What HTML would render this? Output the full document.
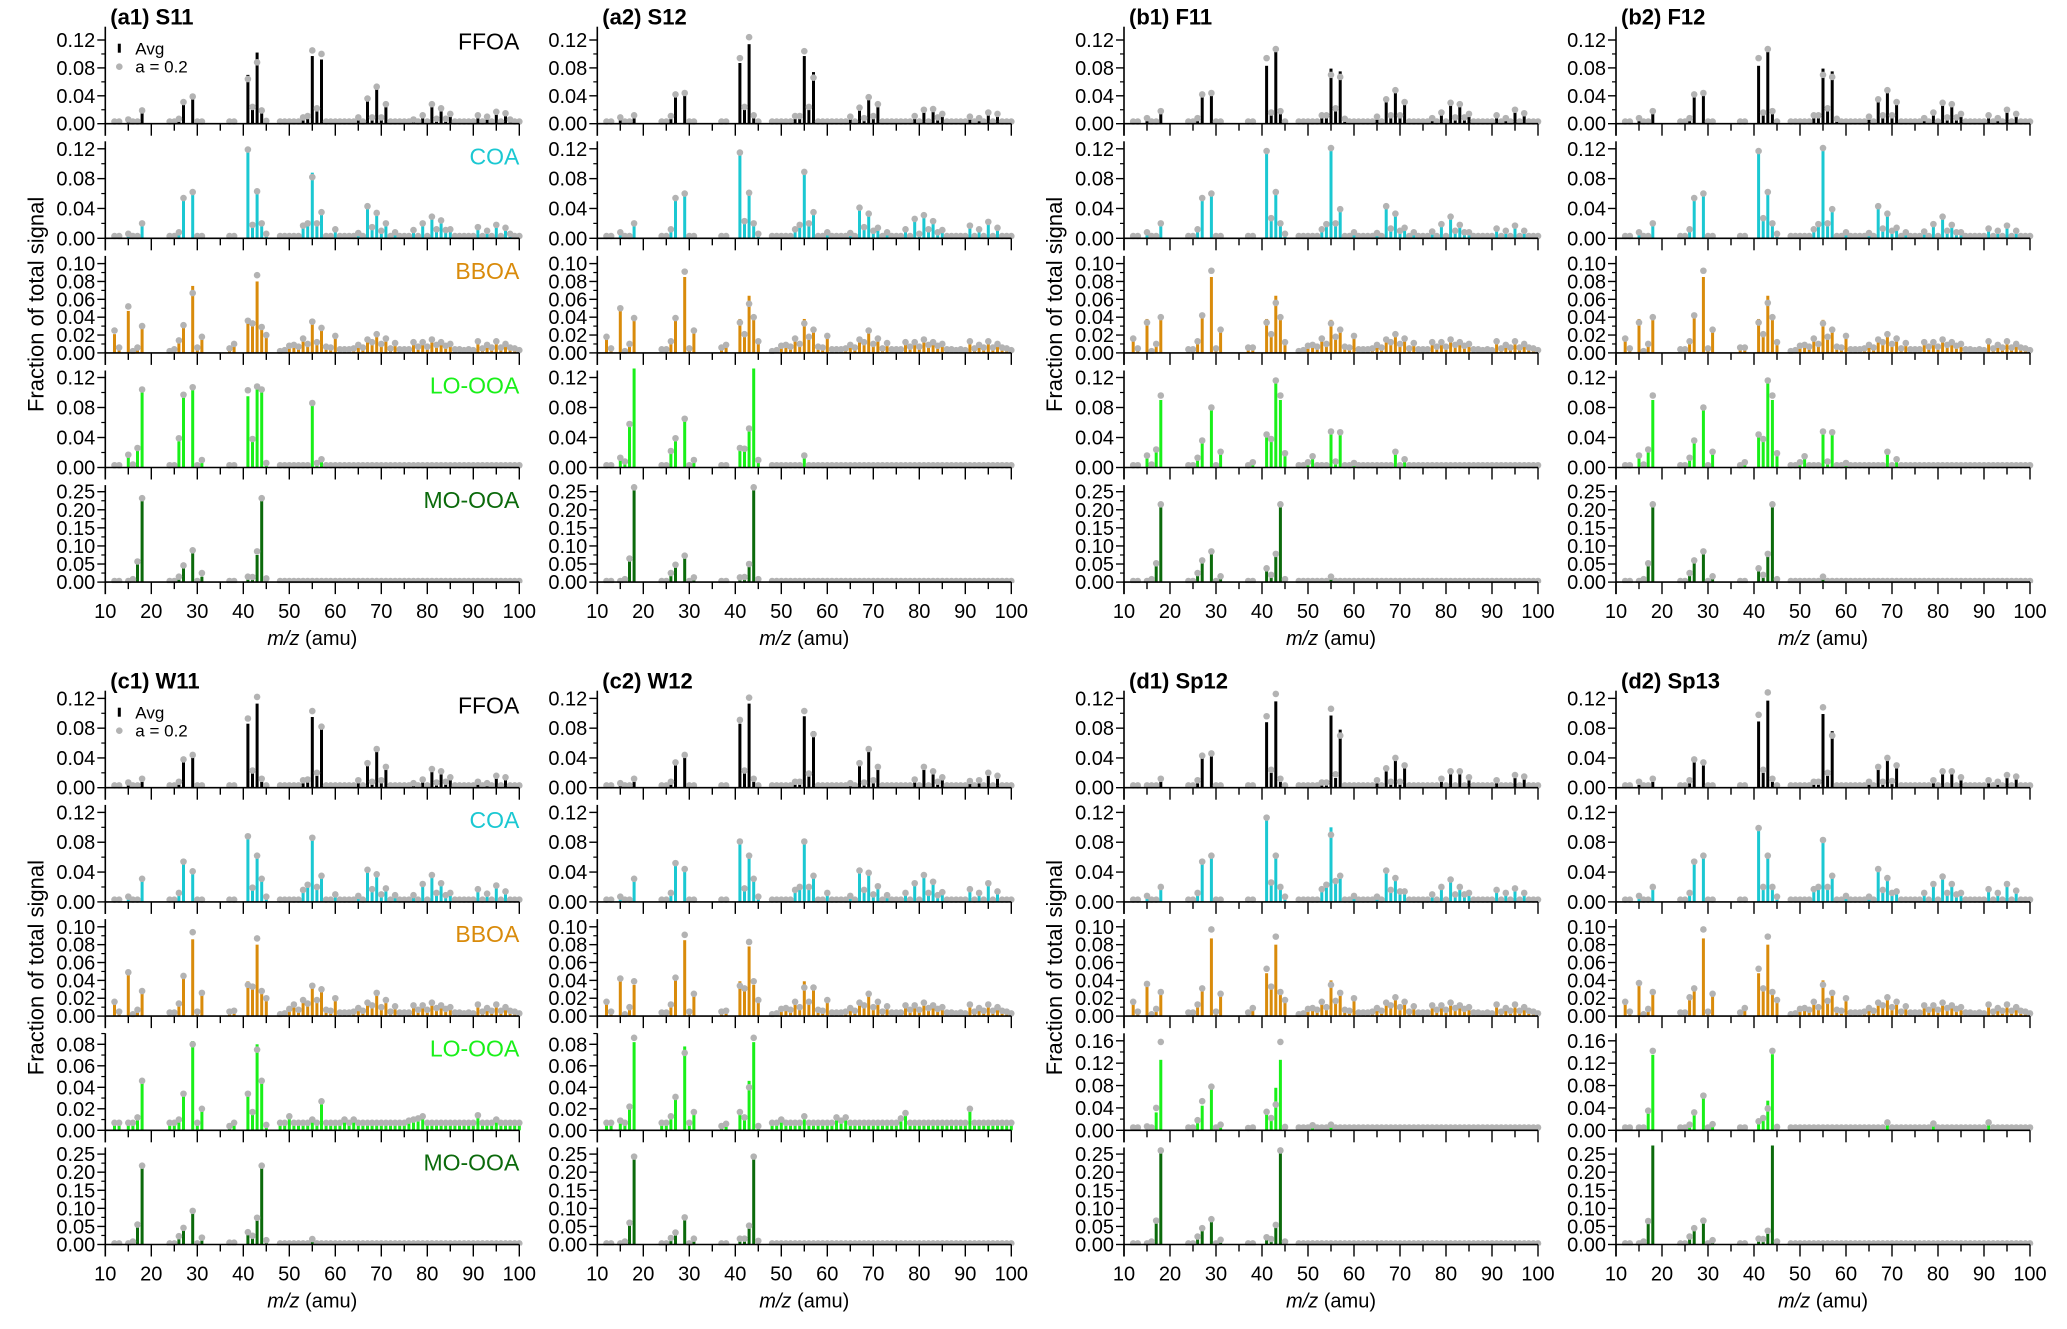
<!DOCTYPE html>
<html><head><meta charset="utf-8"><title>PMF factor mass spectra</title>
<style>
html,body{margin:0;padding:0;background:#fff;}
svg{display:block;font-family:"Liberation Sans","DejaVu Sans",sans-serif;}
</style></head>
<body>
<svg id="chart" width="2067" height="1329" viewBox="0 0 2067 1329" xmlns="http://www.w3.org/2000/svg">
<rect x="0" y="0" width="2067" height="1329" fill="#fff"/>
</svg>
<script>
// m/z values present in the spectra
const mzList = [12,13,15,16,17,18,24,25,26,27,29,30,31,37,38,41,42,43,44,45,48,49,50,51,52,53,54,55,56,57,58,59,60,61,62,63,64,65,66,67,68,69,70,71,72,73,74,75,76,77,78,79,80,81,82,83,84,85,86,87,88,89,90,91,92,93,94,95,96,97,98,99,100];
const factorNames = ["FFOA","COA","BBOA","LO-OOA","MO-OOA"];
const panelTitles = ["(a1) S11","(a2) S12","(b1) F11","(b2) F12","(c1) W11","(c2) W12","(d1) Sp12","(d2) Sp13"];
const xTicks = [10,20,30,40,50,60,70,80,90,100];

// shared BBOA tail (m/z 48-100), [mz, avg, a=0.2]
const bboaTail = [[48,0,0.002],[49,0.002,0.003],[50,0.006,0.008],[51,0.007,0.009],[52,0.005,0.007],[53,0.013,0.016],[54,0.008,0.01],[56,0.01,0.012],[58,0.006,0.007],[59,0.005,0.006],[60,0.017,0.019],[61,0.004,0.004],[62,0.003,0.004],[63,0.004,0.004],[64,0.004,0.005],[65,0.007,0.009],[66,0.005,0.006],[67,0.013,0.015],[68,0.01,0.012],[69,0.018,0.021],[70,0.008,0.01],[71,0.014,0.016],[72,0.004,0.005],[73,0.009,0.011],[74,0.004,0.004],[75,0.004,0.004],[76,0.003,0.004],[77,0.01,0.012],[78,0.005,0.007],[79,0.01,0.012],[80,0.005,0.007],[81,0.012,0.015],[82,0.007,0.009],[83,0.01,0.012],[84,0.006,0.008],[85,0.008,0.01],[86,0.003,0.004],[87,0.003,0.004],[88,0.002,0.003],[89,0.003,0.004],[90,0.002,0.003],[91,0.011,0.013],[92,0.004,0.005],[93,0.007,0.009],[94,0.005,0.006],[95,0.01,0.013],[96,0.005,0.006],[97,0.008,0.01],[98,0.005,0.006],[99,0.004,0.005],[100,0.002,0.003]];

// FFOA
const ffoa_a1 = [[15,0.003,0.006],[18,0.016,0.019],[26,0.005,0.007],[27,0.028,0.031],[29,0.037,0.039],[41,0.07,0.064],[42,0.02,0.024],[43,0.102,0.088],[44,0.015,0.019],[45,0.002,0.004],[53,0.007,0.009],[54,0.008,0.011],[55,0.097,0.105],[56,0.018,0.022],[57,0.092,0.1],[65,0.007,0.009],[67,0.033,0.036],[68,0.005,0.009],[69,0.05,0.053],[70,0.007,0.009],[71,0.025,0.028],[77,0.004,0.006],[79,0.01,0.012],[81,0.025,0.028],[82,0.005,0.007],[83,0.018,0.022],[84,0.005,0.007],[85,0.012,0.014],[91,0.01,0.012],[93,0.008,0.01],[95,0.014,0.017],[97,0.012,0.015],[98,0.004,0.006]];
const ffoa_a2 = [[15,0.006,0.009],[18,0.008,0.012],[26,0.007,0.011],[27,0.038,0.042],[29,0.042,0.044],[41,0.087,0.094],[42,0.02,0.024],[43,0.114,0.124],[44,0.01,0.012],[53,0.009,0.011],[54,0.009,0.011],[55,0.097,0.104],[56,0.02,0.024],[57,0.074,0.066],[65,0.008,0.01],[67,0.02,0.023],[68,0.004,0.008],[69,0.04,0.038],[70,0.008,0.011],[71,0.025,0.028],[79,0.008,0.011],[81,0.018,0.02],[83,0.018,0.021],[84,0.006,0.009],[85,0.012,0.014],[91,0.008,0.01],[93,0.005,0.008],[95,0.014,0.016],[97,0.011,0.014]];
const ffoa_b1 = [[15,0.005,0.008],[18,0.015,0.018],[26,0.005,0.008],[27,0.038,0.042],[29,0.042,0.044],[41,0.083,0.094],[42,0.012,0.016],[43,0.103,0.107],[44,0.015,0.018],[53,0.01,0.012],[54,0.009,0.012],[55,0.079,0.07],[56,0.019,0.022],[57,0.075,0.067],[58,0.004,0.007],[65,0.007,0.01],[67,0.032,0.035],[68,0.008,0.012],[69,0.047,0.048],[70,0.009,0.012],[71,0.03,0.031],[77,0.004,0.008],[79,0.012,0.016],[81,0.028,0.03],[82,0.005,0.009],[83,0.026,0.028],[84,0.005,0.009],[85,0.012,0.014],[91,0.01,0.012],[93,0.005,0.008],[95,0.018,0.02],[97,0.012,0.015]];
const ffoa_b2 = [[15,0.005,0.008],[18,0.015,0.018],[26,0.005,0.008],[27,0.038,0.042],[29,0.042,0.044],[41,0.083,0.094],[42,0.012,0.016],[43,0.103,0.107],[44,0.015,0.018],[53,0.01,0.012],[54,0.009,0.012],[55,0.079,0.07],[56,0.019,0.022],[57,0.075,0.067],[58,0.004,0.007],[65,0.007,0.01],[67,0.032,0.035],[68,0.008,0.012],[69,0.047,0.048],[70,0.009,0.012],[71,0.03,0.031],[77,0.004,0.008],[79,0.012,0.016],[81,0.028,0.03],[82,0.005,0.009],[83,0.026,0.028],[84,0.005,0.009],[85,0.012,0.014],[91,0.01,0.012],[93,0.005,0.008],[95,0.018,0.02],[97,0.012,0.014]];
const ffoa_c1 = [[15,0.004,0.007],[18,0.008,0.012],[26,0.005,0.008],[27,0.035,0.038],[29,0.041,0.044],[41,0.086,0.093],[42,0.02,0.023],[43,0.113,0.122],[44,0.008,0.012],[53,0.008,0.01],[54,0.008,0.011],[55,0.095,0.103],[56,0.016,0.02],[57,0.08,0.082],[65,0.008,0.01],[67,0.03,0.033],[68,0.005,0.008],[69,0.05,0.052],[70,0.007,0.01],[71,0.025,0.028],[77,0.004,0.006],[79,0.008,0.011],[81,0.022,0.025],[82,0.004,0.007],[83,0.018,0.022],[84,0.005,0.008],[85,0.012,0.014],[91,0.006,0.008],[93,0.004,0.006],[95,0.013,0.016],[97,0.011,0.014]];
const ffoa_c2 = [[15,0.004,0.006],[18,0.008,0.012],[26,0.005,0.008],[27,0.031,0.034],[29,0.041,0.044],[41,0.086,0.091],[42,0.02,0.023],[43,0.113,0.121],[44,0.008,0.012],[53,0.007,0.008],[54,0.007,0.008],[55,0.096,0.103],[56,0.016,0.019],[57,0.076,0.072],[65,0.004,0.006],[67,0.03,0.033],[68,0.004,0.007],[69,0.05,0.052],[70,0.007,0.01],[71,0.025,0.028],[79,0.008,0.011],[81,0.025,0.028],[83,0.018,0.022],[84,0.005,0.008],[85,0.011,0.014],[91,0.006,0.009],[93,0.006,0.01],[95,0.016,0.02],[97,0.013,0.016]];
const ffoa_d1 = [[18,0.008,0.012],[26,0.006,0.01],[27,0.04,0.043],[29,0.042,0.046],[41,0.088,0.096],[42,0.02,0.024],[43,0.116,0.126],[44,0.008,0.012],[53,0.004,0.007],[54,0.005,0.007],[55,0.097,0.106],[56,0.013,0.018],[57,0.078,0.07],[65,0.006,0.01],[67,0.022,0.026],[68,0.005,0.008],[69,0.038,0.04],[70,0.005,0.008],[71,0.028,0.03],[79,0.008,0.012],[81,0.02,0.022],[83,0.02,0.022],[85,0.012,0.014],[91,0.008,0.01],[95,0.015,0.017],[97,0.013,0.015]];
const ffoa_d2 = [[15,0.004,0.008],[18,0.008,0.012],[26,0.006,0.01],[27,0.036,0.038],[29,0.03,0.034],[41,0.089,0.098],[42,0.02,0.024],[43,0.117,0.128],[44,0.008,0.012],[53,0.006,0.008],[54,0.006,0.008],[55,0.099,0.108],[56,0.016,0.02],[57,0.076,0.07],[65,0.005,0.008],[67,0.025,0.028],[68,0.005,0.008],[69,0.043,0.04],[70,0.006,0.009],[71,0.028,0.03],[79,0.007,0.01],[81,0.02,0.022],[83,0.021,0.022],[85,0.012,0.014],[91,0.008,0.01],[93,0.006,0.008],[95,0.015,0.017],[97,0.013,0.015]];

// COA
const coa_a1 = [[15,0.004,0.006],[18,0.018,0.02],[26,0.005,0.008],[27,0.052,0.054],[29,0.06,0.062],[41,0.118,0.119],[42,0.015,0.018],[43,0.06,0.063],[44,0.016,0.02],[45,0.004,0.006],[53,0.015,0.017],[54,0.017,0.02],[55,0.088,0.082],[56,0.017,0.02],[57,0.032,0.035],[60,0.01,0.012],[65,0.005,0.007],[67,0.04,0.043],[68,0.012,0.015],[69,0.03,0.034],[70,0.009,0.01],[71,0.016,0.02],[73,0.006,0.008],[77,0.009,0.011],[79,0.016,0.02],[81,0.026,0.029],[82,0.01,0.012],[83,0.02,0.024],[84,0.008,0.011],[85,0.01,0.012],[91,0.012,0.015],[93,0.008,0.01],[95,0.015,0.018],[97,0.01,0.014],[98,0.005,0.006]];
const coa_a2 = [[15,0.006,0.008],[18,0.018,0.02],[26,0.009,0.012],[27,0.052,0.054],[29,0.06,0.06],[41,0.115,0.115],[42,0.02,0.023],[43,0.058,0.061],[44,0.018,0.02],[45,0.004,0.006],[53,0.013,0.012],[54,0.015,0.018],[55,0.09,0.089],[56,0.018,0.02],[57,0.033,0.035],[60,0.008,0.008],[65,0.006,0.007],[67,0.04,0.041],[68,0.012,0.015],[69,0.032,0.033],[70,0.009,0.01],[71,0.012,0.014],[73,0.006,0.008],[77,0.01,0.012],[79,0.024,0.026],[80,0.004,0.006],[81,0.03,0.031],[82,0.01,0.012],[83,0.022,0.023],[84,0.006,0.008],[85,0.01,0.011],[91,0.015,0.017],[93,0.01,0.012],[95,0.02,0.022],[97,0.012,0.014]];
const coa_b1 = [[15,0.006,0.008],[18,0.018,0.02],[26,0.009,0.012],[27,0.052,0.054],[29,0.06,0.06],[41,0.116,0.117],[42,0.024,0.027],[43,0.063,0.062],[44,0.018,0.02],[45,0.004,0.006],[53,0.01,0.012],[54,0.016,0.019],[55,0.118,0.121],[56,0.016,0.02],[57,0.037,0.039],[60,0.008,0.008],[65,0.005,0.007],[67,0.04,0.043],[68,0.012,0.013],[69,0.032,0.033],[70,0.008,0.01],[71,0.012,0.014],[73,0.007,0.008],[77,0.007,0.009],[79,0.016,0.019],[81,0.026,0.029],[82,0.008,0.01],[83,0.015,0.018],[84,0.006,0.008],[85,0.006,0.008],[91,0.012,0.013],[93,0.009,0.01],[95,0.016,0.017],[97,0.008,0.01]];
const coa_b2 = [[15,0.006,0.008],[18,0.018,0.02],[26,0.009,0.012],[27,0.052,0.054],[29,0.06,0.06],[41,0.116,0.117],[42,0.024,0.027],[43,0.063,0.062],[44,0.018,0.02],[45,0.004,0.006],[53,0.01,0.012],[54,0.016,0.019],[55,0.118,0.121],[56,0.016,0.02],[57,0.037,0.039],[60,0.008,0.008],[65,0.005,0.007],[67,0.04,0.043],[68,0.012,0.013],[69,0.03,0.033],[70,0.008,0.01],[71,0.012,0.014],[73,0.007,0.008],[77,0.007,0.009],[79,0.016,0.019],[81,0.026,0.029],[82,0.008,0.01],[83,0.015,0.018],[84,0.006,0.008],[85,0.006,0.008],[91,0.012,0.013],[93,0.009,0.01],[95,0.016,0.017],[97,0.008,0.01]];
const coa_c1 = [[15,0.005,0.007],[18,0.028,0.031],[26,0.01,0.012],[27,0.052,0.054],[29,0.04,0.041],[41,0.088,0.088],[42,0.017,0.019],[43,0.06,0.062],[44,0.028,0.031],[45,0.005,0.007],[53,0.014,0.016],[54,0.02,0.023],[55,0.086,0.086],[56,0.018,0.02],[57,0.034,0.035],[60,0.009,0.01],[65,0.006,0.008],[67,0.042,0.043],[68,0.015,0.017],[69,0.036,0.037],[70,0.01,0.01],[71,0.017,0.018],[73,0.007,0.009],[77,0.007,0.009],[79,0.022,0.024],[81,0.034,0.036],[82,0.01,0.012],[83,0.023,0.025],[84,0.007,0.009],[85,0.011,0.012],[91,0.016,0.017],[93,0.01,0.011],[95,0.02,0.022],[97,0.013,0.014]];
const coa_c2 = [[15,0.005,0.007],[18,0.028,0.031],[26,0.01,0.012],[27,0.05,0.052],[29,0.043,0.044],[41,0.08,0.081],[42,0.016,0.018],[43,0.06,0.062],[44,0.028,0.031],[45,0.005,0.007],[53,0.014,0.016],[54,0.018,0.02],[55,0.08,0.081],[56,0.018,0.02],[57,0.033,0.035],[60,0.01,0.012],[65,0.006,0.008],[67,0.04,0.042],[68,0.014,0.016],[69,0.038,0.039],[70,0.009,0.01],[71,0.018,0.021],[73,0.007,0.009],[77,0.01,0.012],[79,0.024,0.025],[81,0.034,0.036],[82,0.01,0.012],[83,0.025,0.027],[84,0.008,0.009],[85,0.011,0.013],[91,0.016,0.017],[93,0.01,0.012],[95,0.022,0.025],[97,0.012,0.014]];
const coa_d1 = [[15,0.005,0.008],[18,0.018,0.02],[26,0.009,0.012],[27,0.052,0.054],[29,0.06,0.062],[41,0.11,0.113],[42,0.023,0.026],[43,0.06,0.062],[44,0.018,0.02],[45,0.005,0.007],[53,0.014,0.017],[54,0.02,0.023],[55,0.1,0.09],[56,0.025,0.028],[57,0.033,0.035],[60,0.006,0.008],[65,0.006,0.007],[67,0.04,0.042],[68,0.014,0.016],[69,0.03,0.032],[70,0.012,0.014],[71,0.012,0.014],[77,0.008,0.01],[79,0.016,0.02],[81,0.028,0.03],[82,0.008,0.01],[83,0.016,0.02],[84,0.008,0.01],[85,0.01,0.012],[91,0.014,0.016],[93,0.01,0.012],[95,0.016,0.018],[97,0.01,0.012]];
const coa_d2 = [[15,0.005,0.008],[18,0.018,0.02],[26,0.009,0.012],[27,0.052,0.054],[29,0.06,0.062],[41,0.098,0.099],[42,0.017,0.02],[43,0.06,0.062],[44,0.017,0.02],[45,0.005,0.007],[53,0.014,0.017],[54,0.018,0.02],[55,0.082,0.083],[56,0.018,0.02],[57,0.033,0.035],[60,0.006,0.008],[65,0.006,0.007],[67,0.042,0.044],[68,0.014,0.016],[69,0.03,0.032],[70,0.01,0.012],[71,0.012,0.014],[77,0.01,0.012],[79,0.022,0.024],[81,0.032,0.034],[82,0.01,0.012],[83,0.022,0.024],[84,0.008,0.01],[85,0.01,0.012],[91,0.015,0.017],[93,0.01,0.012],[95,0.022,0.024],[97,0.013,0.015]];

// BBOA (low m/z part; tail from bboaTail + overrides)
const bboa_a1 = [[12,0.021,0.025],[13,0.004,0.006],[15,0.047,0.052],[16,0.001,0.002],[17,0.004,0.006],[18,0.028,0.03],[24,0.001,0.002],[25,0.002,0.004],[26,0.012,0.014],[27,0.03,0.031],[29,0.075,0.067],[30,0.005,0.006],[31,0.015,0.018],[37,0.004,0.005],[38,0.008,0.01],[41,0.038,0.036],[42,0.03,0.033],[43,0.08,0.087],[44,0.028,0.029],[45,0.018,0.02],[55,0.037,0.035],[57,0.027,0.028]];
const bboa_a2 = [[12,0.016,0.018],[13,0.003,0.005],[15,0.048,0.05],[16,0.001,0.002],[17,0.007,0.01],[18,0.036,0.039],[26,0.011,0.013],[27,0.036,0.039],[29,0.085,0.091],[30,0.004,0.005],[31,0.022,0.025],[37,0.005,0.006],[38,0.007,0.009],[41,0.038,0.034],[42,0.018,0.021],[43,0.064,0.055],[44,0.037,0.04],[45,0.01,0.013],[55,0.038,0.033],[56,0.015,0.018],[57,0.028,0.026],[69,0.022,0.025]];
const bboa_b1 = [[12,0.013,0.016],[13,0.003,0.005],[15,0.038,0.034],[16,0.001,0.002],[17,0.007,0.01],[18,0.038,0.04],[26,0.011,0.013],[27,0.04,0.042],[29,0.085,0.092],[30,0.004,0.005],[31,0.024,0.026],[37,0.004,0.006],[38,0.005,0.006],[41,0.038,0.034],[42,0.018,0.021],[43,0.064,0.056],[44,0.037,0.04],[45,0.01,0.012],[55,0.037,0.033],[56,0.015,0.018],[57,0.028,0.026],[60,0.018,0.019]];
const bboa_b2 = [[12,0.013,0.016],[13,0.003,0.005],[15,0.038,0.034],[16,0.001,0.002],[17,0.007,0.01],[18,0.038,0.04],[26,0.011,0.013],[27,0.04,0.042],[29,0.085,0.092],[30,0.004,0.005],[31,0.024,0.026],[37,0.004,0.006],[38,0.005,0.006],[41,0.038,0.034],[42,0.018,0.021],[43,0.064,0.056],[44,0.037,0.04],[45,0.01,0.012],[55,0.037,0.033],[56,0.015,0.018],[57,0.028,0.026],[60,0.018,0.019]];
const bboa_c1 = [[12,0.013,0.016],[13,0.003,0.005],[15,0.048,0.049],[16,0.001,0.002],[17,0.006,0.007],[18,0.026,0.028],[26,0.012,0.014],[27,0.042,0.045],[29,0.086,0.094],[30,0.004,0.005],[31,0.026,0.026],[37,0.004,0.005],[38,0.005,0.006],[41,0.039,0.035],[42,0.032,0.033],[43,0.08,0.087],[44,0.028,0.028],[45,0.019,0.02],[51,0.012,0.013],[53,0.017,0.018],[54,0.012,0.014],[55,0.037,0.034],[56,0.018,0.018],[57,0.03,0.03],[60,0.018,0.02],[69,0.025,0.026],[71,0.016,0.018]];
const bboa_c2 = [[12,0.014,0.016],[13,0.003,0.005],[15,0.04,0.042],[16,0.001,0.002],[17,0.008,0.01],[18,0.035,0.039],[26,0.011,0.013],[27,0.04,0.043],[29,0.085,0.091],[30,0.004,0.005],[31,0.024,0.025],[37,0.004,0.005],[38,0.005,0.006],[41,0.039,0.034],[42,0.03,0.031],[43,0.078,0.083],[44,0.035,0.039],[45,0.016,0.018],[55,0.039,0.032],[56,0.014,0.016],[57,0.032,0.032],[60,0.016,0.018],[69,0.022,0.025]];
const bboa_d1 = [[12,0.013,0.016],[13,0.003,0.005],[15,0.038,0.036],[16,0.001,0.002],[17,0.006,0.008],[18,0.025,0.027],[26,0.011,0.013],[27,0.028,0.031],[29,0.087,0.097],[30,0.004,0.005],[31,0.024,0.025],[37,0.004,0.004],[38,0.006,0.009],[41,0.048,0.053],[42,0.03,0.033],[43,0.08,0.089],[44,0.025,0.027],[45,0.017,0.018],[55,0.04,0.035],[56,0.017,0.017],[57,0.025,0.026],[60,0.018,0.02]];
const bboa_d2 = [[12,0.013,0.016],[13,0.003,0.005],[15,0.036,0.037],[16,0.001,0.002],[17,0.006,0.008],[18,0.025,0.027],[26,0.018,0.021],[27,0.028,0.031],[29,0.087,0.097],[30,0.004,0.005],[31,0.024,0.025],[37,0.004,0.004],[38,0.006,0.009],[41,0.048,0.053],[42,0.03,0.031],[43,0.08,0.089],[44,0.025,0.027],[45,0.017,0.018],[55,0.04,0.035],[56,0.016,0.017],[57,0.025,0.026],[60,0.018,0.02]];

// LO-OOA
const lo_a1 = [[15,0.014,0.017],[16,0.003,0.004],[17,0.022,0.026],[18,0.1,0.104],[26,0.035,0.039],[27,0.093,0.097],[29,0.105,0.107],[31,0.007,0.01],[41,0.095,0.103],[42,0.035,0.038],[43,0.105,0.108],[44,0.1,0.104],[45,0.004,0.006],[55,0.083,0.086],[56,0.004,0.006],[57,0.008,0.011]];
const lo_a2 = [[15,0.01,0.013],[16,0.005,0.008],[17,0.055,0.058],[18,0.14,0.14],[26,0.02,0.022],[27,0.035,0.039],[29,0.062,0.065],[31,0.008,0.01],[41,0.025,0.026],[42,0.024,0.025],[43,0.048,0.052],[44,0.14,0.14],[45,0.008,0.01],[55,0.013,0.016]];
const lo_b1 = [[12,0.002,0.003],[15,0.013,0.016],[16,0.003,0.004],[17,0.021,0.024],[18,0.09,0.096],[26,0.01,0.013],[27,0.033,0.036],[29,0.078,0.08],[31,0.018,0.021],[38,0.005,0.007],[41,0.048,0.044],[42,0.035,0.038],[43,0.112,0.116],[44,0.09,0.096],[45,0.017,0.019],[50,0.005,0.007],[51,0.012,0.015],[55,0.044,0.048],[56,0.006,0.008],[57,0.045,0.047],[60,0.005,0.006],[69,0.018,0.021],[71,0.008,0.011]];
const lo_b2 = [[12,0.002,0.003],[15,0.013,0.016],[16,0.003,0.004],[17,0.021,0.024],[18,0.09,0.096],[26,0.01,0.013],[27,0.033,0.036],[29,0.078,0.08],[31,0.018,0.021],[38,0.005,0.007],[41,0.048,0.044],[42,0.035,0.038],[43,0.112,0.116],[44,0.09,0.096],[45,0.017,0.019],[50,0.005,0.007],[51,0.012,0.015],[55,0.044,0.048],[56,0.006,0.008],[57,0.045,0.047],[60,0.005,0.006],[69,0.018,0.021],[71,0.008,0.011]];
const lo_c1 = [[15,0.005,0.007],[17,0.01,0.012],[18,0.045,0.046],[26,0.008,0.01],[27,0.032,0.034],[29,0.083,0.08],[31,0.018,0.02],[37,0.003,0.004],[38,0.005,0.007],[41,0.032,0.034],[42,0.015,0.017],[43,0.08,0.075],[44,0.045,0.046],[45,0.003,0.005],[50,0.011,0.013],[55,0.008,0.01],[57,0.024,0.027],[62,0.008,0.01],[64,0.009,0.01],[76,0.008,0.009],[77,0.009,0.01],[78,0.01,0.011],[79,0.012,0.013],[91,0.012,0.014],[95,0.008,0.01]];
const lo_c2 = [[15,0.007,0.009],[17,0.02,0.022],[18,0.082,0.086],[26,0.011,0.013],[27,0.03,0.031],[29,0.078,0.072],[31,0.015,0.017],[37,0.003,0.004],[38,0.004,0.006],[41,0.015,0.017],[42,0.011,0.012],[43,0.046,0.04],[44,0.082,0.086],[45,0.002,0.004],[50,0.008,0.01],[55,0.01,0.013],[62,0.01,0.012],[63,0.008,0.009],[64,0.01,0.012],[76,0.01,0.011],[77,0.014,0.016],[91,0.018,0.02]];
const lo_d1 = [[15,0.004,0.007],[17,0.032,0.04],[18,0.126,0.158],[26,0.015,0.018],[27,0.044,0.052],[29,0.08,0.078],[31,0.007,0.01],[37,0.004,0.004],[41,0.035,0.033],[42,0.018,0.022],[43,0.076,0.046],[44,0.126,0.158],[45,0.006,0.006],[51,0.006,0.009],[55,0.008,0.01]];
const lo_d2 = [[17,0.03,0.035],[18,0.135,0.142],[26,0.008,0.01],[27,0.027,0.032],[29,0.058,0.062],[31,0.008,0.011],[41,0.016,0.016],[42,0.02,0.022],[43,0.053,0.039],[44,0.136,0.142],[45,0.004,0.006],[69,0.01,0.014],[79,0.008,0.012],[91,0.01,0.014]];

// MO-OOA
const mo_a1 = [[16,0.003,0.008],[17,0.05,0.057],[18,0.225,0.232],[26,0.01,0.015],[27,0.04,0.046],[29,0.08,0.088],[31,0.015,0.025],[41,0.01,0.015],[42,0.01,0.014],[43,0.075,0.085],[44,0.225,0.232],[45,0.004,0.01]];
const mo_a2 = [[16,0.002,0.008],[17,0.06,0.065],[18,0.26,0.262],[26,0.018,0.025],[27,0.042,0.048],[29,0.068,0.073],[31,0.008,0.013],[41,0.01,0.013],[42,0.01,0.014],[43,0.045,0.05],[44,0.26,0.262],[45,0.003,0.008]];
const mo_b1 = [[16,0.005,0.008],[17,0.045,0.052],[18,0.21,0.215],[26,0.018,0.025],[27,0.055,0.06],[29,0.082,0.085],[31,0.01,0.016],[41,0.032,0.038],[42,0.013,0.02],[43,0.075,0.078],[44,0.21,0.215],[45,0.003,0.008],[55,0.01,0.015]];
const mo_b2 = [[16,0.005,0.008],[17,0.045,0.052],[18,0.21,0.215],[26,0.018,0.025],[27,0.055,0.06],[29,0.082,0.085],[31,0.01,0.016],[41,0.032,0.038],[42,0.013,0.02],[43,0.075,0.078],[44,0.21,0.215],[45,0.003,0.008],[55,0.01,0.015]];
const mo_c1 = [[16,0.006,0.008],[17,0.048,0.055],[18,0.215,0.218],[26,0.015,0.023],[27,0.04,0.046],[29,0.088,0.093],[31,0.012,0.019],[37,0.005,0.005],[38,0.005,0.005],[41,0.028,0.034],[42,0.017,0.024],[43,0.068,0.074],[44,0.215,0.218],[45,0.008,0.012],[55,0.008,0.015]];
const mo_c2 = [[16,0.004,0.008],[17,0.055,0.06],[18,0.24,0.243],[26,0.013,0.018],[27,0.028,0.033],[29,0.07,0.075],[31,0.01,0.016],[41,0.013,0.016],[42,0.013,0.016],[43,0.045,0.052],[44,0.24,0.243],[45,0.004,0.01]];
const mo_d1 = [[16,0.006,0.008],[17,0.058,0.066],[18,0.26,0.26],[26,0.018,0.022],[27,0.04,0.045],[29,0.065,0.07],[31,0.008,0.013],[41,0.015,0.02],[42,0.012,0.015],[43,0.05,0.054],[44,0.26,0.26],[45,0.004,0.008]];
const mo_d2 = [[16,0.005,0.008],[17,0.06,0.065],[18,0.29,0.3],[26,0.018,0.022],[27,0.038,0.045],[29,0.06,0.066],[31,0.006,0.012],[41,0.013,0.016],[42,0.01,0.015],[43,0.03,0.038],[44,0.29,0.3],[45,0.003,0.008]];

// default [avg, a=0.2] for m/z not listed, per panel-row
const defaultsFFOA = [0.001,0.003];
const defaultsCOA = [0.001,0.003];
const defaultsBBOA = [0.003,0.004];
const defaultsLO = [0.001,0.003];
const defaultsLOwinter = [0.005,0.007];
const defaultsLOspring = [0.003,0.005];
const defaultsMO = [0.001,0.003];

// axis ticks per row type
const ticksStd = [0,0.04,0.08,0.12];
const ticksBBOA = [0,0.02,0.04,0.06,0.08,0.1];
const ticksMO = [0,0.05,0.1,0.15,0.2,0.25];
const ticksLOc = [0,0.02,0.04,0.06,0.08];
const ticksLOd = [0,0.04,0.08,0.12,0.16];
</script>
<script>
const NS = "http://www.w3.org/2000/svg";
const svg = document.getElementById('chart');
function mk(tag, attrs, parent){ const e = document.createElementNS(NS, tag); for (const k in attrs) e.setAttribute(k, attrs[k]); (parent||svg).appendChild(e); return e; }

const colX0 = [105.3, 597.3, 1124, 1616];
const PW = 414;
const pxPerAmu = PW / 90;
const rowZeroTop = [123.7, 238.3, 352.9, 467.5, 582.1];
const rowZeroBot = [787.7, 901.9, 1016.1, 1130.3, 1244.5];
const PH = 97;
const barColors = ["#000000","#1bc8d2","#d98b0b","#19f019","#0b6a0b"];
const labelColors = ["#000000","#1bc8d2","#d98b0b","#19f019","#0b6a0b"];

const panelData = [
 [ffoa_a1,coa_a1,bboa_a1,lo_a1,mo_a1],
 [ffoa_a2,coa_a2,bboa_a2,lo_a2,mo_a2],
 [ffoa_b1,coa_b1,bboa_b1,lo_b1,mo_b1],
 [ffoa_b2,coa_b2,bboa_b2,lo_b2,mo_b2],
 [ffoa_c1,coa_c1,bboa_c1,lo_c1,mo_c1],
 [ffoa_c2,coa_c2,bboa_c2,lo_c2,mo_c2],
 [ffoa_d1,coa_d1,bboa_d1,lo_d1,mo_d1],
 [ffoa_d2,coa_d2,bboa_d2,lo_d2,mo_d2]
];

function rowCfg(p, r){
  const top = p < 4;
  if (r === 0) return {ticks: ticksStd, topVal: 0.12, topPx: top ? 83.7 : 89.3, def: defaultsFFOA};
  if (r === 1) return {ticks: ticksStd, topVal: 0.12, topPx: 89.5, def: defaultsCOA};
  if (r === 2) return {ticks: ticksBBOA, topVal: 0.10, topPx: 89.3, def: defaultsBBOA};
  if (r === 3) {
    if (p === 4 || p === 5) return {ticks: ticksLOc, topVal: 0.08, topPx: 86, def: defaultsLOwinter};
    if (p === 6 || p === 7) return {ticks: ticksLOd, topVal: 0.16, topPx: 89.5, def: defaultsLOspring};
    return {ticks: ticksStd, topVal: 0.12, topPx: 90, def: defaultsLO};
  }
  return {ticks: ticksMO, topVal: 0.25, topPx: 90.4, def: defaultsMO};
}

function fullSeries(r, peaks, def){
  const map = {};
  mzList.forEach(m => { map[m] = [def[0], def[1]]; });
  if (r === 2) bboaTail.forEach(t => { map[t[0]] = [t[1], t[2]]; });
  peaks.forEach(t => { map[t[0]] = [t[1], t[2]]; });
  return mzList.map(m => [m, map[m][0], map[m][1]]);
}

let clipId = 0;
for (let p = 0; p < 8; p++) {
  const col = p % 4;
  const x0 = colX0[col];
  const zeros = p < 4 ? rowZeroTop : rowZeroBot;
  const xScale = m => x0 + (m - 10) * pxPerAmu;
  const g = mk('g', {});
  
  

  const title = mk('text', {x: x0 + 5, y: zeros[0] - 99, 'font-size': 22, 'font-weight': 'bold', fill: '#000'}, g);
  title.textContent = panelTitles[p];
  
  

  for (let r = 0; r < 5; r++) {
    const z = zeros[r];
    const cfg = rowCfg(p, r);
    const k = cfg.topPx / cfg.topVal;
    const yScale = v => z - v * k;
    const rg = mk('g', {}, g);
    
    

    clipId++;
    const cp = mk('clipPath', {id: 'cp' + clipId}, rg);
    mk('rect', {x: x0 - 2, y: z - PH - 2, width: PW + 6, height: PH + 3}, cp);
    const marks = mk('g', {'clip-path': 'url(#cp' + clipId + ')'}, rg);

    const series = fullSeries(r, panelData[p][r], cfg.def);
    series.forEach(s => {
      const h = Math.max(0, s[1] * k);
      const bar = mk('rect', {x: xScale(s[0]) - 1.5, y: z - h, width: 3, height: h, fill: barColors[r]}, marks);
      
      
    });
    series.forEach(s => {
      const dot = mk('circle', {cx: xScale(s[0]), cy: yScale(s[2]), r: 3.3, fill: '#b3b3b3'}, marks);
      
      
    });

    const ya = mk('g', {}, rg);
    
    
    mk('line', {x1: x0, y1: z + 12, x2: x0, y2: z - PH, stroke: '#000', 'stroke-width': 1.6}, ya);
    const step = cfg.ticks[1] - cfg.ticks[0];
    for (let v = step / 2; v * k < PH; v += step) {
      mk('line', {x1: x0 - 4, y1: yScale(v), x2: x0, y2: yScale(v), stroke: '#000', 'stroke-width': 1.2}, ya);
    }
    cfg.ticks.forEach(v => {
      mk('line', {x1: x0 - 8, y1: yScale(v), x2: x0, y2: yScale(v), stroke: '#000', 'stroke-width': 1.4}, ya);
      const t = mk('text', {x: x0 - 10, y: yScale(v) + 7, 'font-size': 20, 'text-anchor': 'end', fill: '#000'}, ya);
      t.textContent = v.toFixed(2);
    });

    const xa = mk('g', {}, rg);
    
    
    mk('line', {x1: x0, y1: z, x2: x0 + PW, y2: z, stroke: '#000', 'stroke-width': 1.6}, xa);
    for (let m = 10; m <= 100; m += 5) {
      const major = m % 10 === 0;
      mk('line', {x1: xScale(m), y1: z, x2: xScale(m), y2: z + (major ? 12 : 7), stroke: '#000', 'stroke-width': 1.4}, xa);
    }
    if (r === 4) {
      xTicks.forEach(m => {
        const t = mk('text', {x: xScale(m), y: z + 36, 'font-size': 20, 'text-anchor': 'middle', fill: '#000'}, xa);
        t.textContent = m;
      });
      const xl = mk('text', {x: x0 + PW / 2, y: z + 63, 'font-size': 20, 'text-anchor': 'middle', fill: '#000'}, xa);
      
      
      const ts1 = mk('tspan', {'font-style': 'italic'}, xl); ts1.textContent = 'm/z';
      const ts2 = mk('tspan', {}, xl); ts2.textContent = ' (amu)';
    }

    if (col === 0) {
      const fl = mk('text', {x: x0 + PW, y: z - PH + 23, 'font-size': 23, 'text-anchor': 'end', fill: labelColors[r]}, rg);
      fl.textContent = factorNames[r];
      
      
    }
  }

  if (col === 0) {
    const tz = zeros[0] - PH;
    const lg = mk('g', {}, g);
    
    
    mk('rect', {x: x0 + 12.5, y: tz + 17, width: 3, height: 9, fill: '#000'}, lg);
    const t1 = mk('text', {x: x0 + 30, y: tz + 28, 'font-size': 17, fill: '#000'}, lg); t1.textContent = 'Avg';
    mk('circle', {cx: x0 + 14, cy: tz + 40, r: 3.3, fill: '#b3b3b3'}, lg);
    const t2 = mk('text', {x: x0 + 30, y: tz + 46, 'font-size': 17, fill: '#000'}, lg); t2.textContent = 'a = 0.2';
  }

  if (col === 0 || col === 2) {
    const cy = (zeros[0] - PH + zeros[4]) / 2;
    const cx = x0 - 62;
    const yl = mk('text', {x: cx, y: cy, 'font-size': 22, 'text-anchor': 'middle', fill: '#000', transform: 'rotate(-90 ' + cx + ' ' + cy + ')'}, g);
    yl.textContent = 'Fraction of total signal';
    
    
  }
}
</script>
</body></html>
